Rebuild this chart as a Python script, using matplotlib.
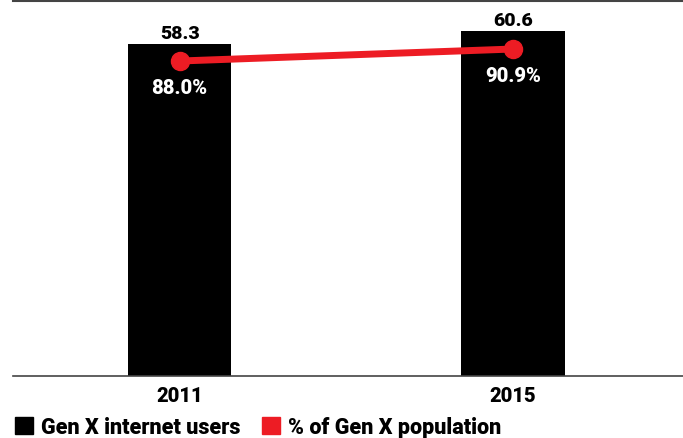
import matplotlib.pyplot as plt
from matplotlib.patches import Patch

years = ['2011', '2015']
users = [58.3, 60.6]
share = [88.0, 90.9]

plt.rcParams['font.family'] = 'Roboto'
plt.rcParams['font.weight'] = 'heavy'

RED = '#ed1c24'

fig = plt.figure(figsize=(6.83, 4.39), dpi=100)
ax = fig.add_axes([13 / 683, 62 / 439, 670 / 683, 375 / 439])
x = range(len(years))

# bars for user counts (millions)
ax.bar(x, users, width=0.31, color='black', zorder=2)
for xi, v in zip(x, users):
    ax.annotate(f'{v:.1f}', (xi, v), xytext=(0, 4.5), textcoords='offset points',
                ha='center', va='baseline', fontsize=14, fontweight='heavy')

ax.set_xlim(-0.5, 1.51)
ax.set_ylim(0, 65.9)
ax.set_yticks([])
ax.set_xticks(list(x))
ax.set_xticklabels(years, fontsize=14.5, fontweight='heavy')
ax.tick_params(axis='x', length=0, pad=7)
for side in ['left', 'right']:
    ax.spines[side].set_visible(False)
ax.spines['top'].set_color('#444444')
ax.spines['bottom'].set_color('#444444')
ax.spines['top'].set_linewidth(1.5)
ax.spines['bottom'].set_linewidth(1.2)

# share of population on its own scale
ax2 = ax.twinx()
ax2.plot(x, share, color=RED, lw=5, marker='o', ms=13, zorder=3)
for xi, v in zip(x, share):
    ax2.annotate(f'{v:.1f}%', (xi, v), xytext=(0, -23), textcoords='offset points',
                 ha='center', va='baseline', color='white', fontsize=14.5,
                 fontweight='heavy')
ax2.set_ylim(11.9, 102.5)
ax2.axis('off')

handles = [Patch(color='black', label='Gen X internet users'),
           Patch(color=RED, label='% of Gen X population')]
fig.legend(handles=handles, loc='center left', bbox_to_anchor=(0.0, 1 - 428 / 439), ncol=2,
           frameon=False, handlelength=0.85, handleheight=0.85, handletextpad=0.35,
           columnspacing=1.0, borderaxespad=0.3, prop={'size': 15.5, 'weight': 'heavy'})

fig.savefig('out.png', dpi=100)
